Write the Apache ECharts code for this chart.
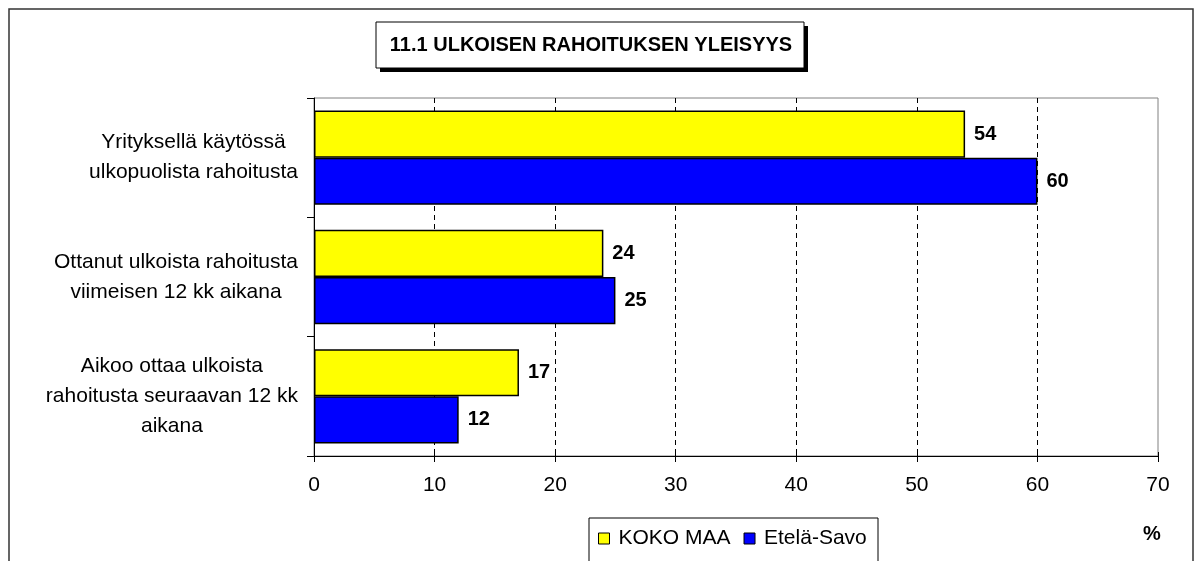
<!DOCTYPE html>
<html>
<head>
<meta charset="utf-8">
<script src="https://cdn.jsdelivr.net/npm/echarts@6/dist/echarts.min.js"></script>
<style>
  html, body { margin: 0; padding: 0; background: #fff; }
  #chart { width: 1201px; height: 561px; }
</style>
</head>
<body>
<div id="chart"></div>
<script>
// data
const categories = [
  'Yrityksellä käytössä\nulkopuolista rahoitusta',
  'Ottanut ulkoista rahoitusta\nviimeisen 12 kk aikana',
  'Aikoo ottaa ulkoista\nrahoitusta seuraavan 12 kk\naikana',
]
const seriesNames = ['KOKO MAA', 'Etelä-Savo']
const kokoMaa = [54, 24, 17]
const etelaSavo = [60, 25, 12]
const xMin = 0
const xMax = 70
const xStep = 10

const font = "'Liberation Sans', Arial, sans-serif"

const chart = echarts.init(document.getElementById('chart'))

const valueLabel = {
  show: true,
  position: 'right',
  distance: 9,
  color: '#000',
  fontFamily: font,
  fontSize: 20,
  fontWeight: 'bold',
}

const option = {
  animation: false,
  textStyle: { fontFamily: font },
  grid: {
    left: 314,
    right: 43,
    top: 98,
    bottom: 105,
    show: true,
    borderColor: '#808080',
    borderWidth: 1,
    backgroundColor: 'transparent',
  },
  legend: {
    left: 593,
    top: 523,
    data: seriesNames,
    icon: 'rect',
    itemWidth: 11,
    itemHeight: 11,
    itemGap: 13,
    itemStyle: { borderColor: '#000', borderWidth: 1 },
    textStyle: { color: '#000', fontSize: 21, fontFamily: font, padding: [0, 0, 0, 4] },
  },
  xAxis: [
    {
      type: 'value',
      min: xMin,
      max: xMax,
      interval: xStep,
      axisLine: { show: true, lineStyle: { color: '#000', width: 1 } },
      axisTick: { show: true, inside: false, length: 6, lineStyle: { color: '#000' } },
      axisLabel: { color: '#000', fontSize: 21, fontFamily: font, margin: 19 },
      splitLine: {
        show: true,
        showMinLine: false,
        showMaxLine: false,
        lineStyle: { color: '#000', type: [5, 4], width: 1 },
      },
    },
    {
      type: 'value',
      position: 'bottom',
      min: xMin,
      max: xMax,
      interval: xStep,
      axisLine: { show: false },
      axisTick: { show: true, inside: true, length: 4, lineStyle: { color: '#000' } },
      axisLabel: { show: false },
      splitLine: { show: false },
    },
  ],
  yAxis: {
    type: 'category',
    inverse: true,
    data: categories,
    axisLine: { show: true, lineStyle: { color: '#000', width: 1 } },
    axisTick: { show: true, inside: false, length: 7, lineStyle: { color: '#000' } },
    axisLabel: {
      margin: 16,
      color: '#000',
      formatter: (v) => v.split('\n').map((l) => '{c|' + l + '}').join('\n'),
      rich: {
        c: { align: 'center', fontSize: 21, lineHeight: 30, fontFamily: font, color: '#000' },
      },
    },
    splitLine: { show: false },
  },
  series: [
    {
      name: seriesNames[0],
      type: 'bar',
      data: kokoMaa,
      barGap: 0,
      barCategoryGap: '21%',
      itemStyle: { color: '#ffff00', borderColor: '#000', borderWidth: 1.5 },
      label: valueLabel,
    },
    {
      name: seriesNames[1],
      type: 'bar',
      data: etelaSavo,
      barGap: 0,
      barCategoryGap: '21%',
      itemStyle: { color: '#0000ff', borderColor: '#000', borderWidth: 1.5 },
      label: valueLabel,
    },
  ],
  graphic: [
    {
      type: 'rect',
      z: -10,
      silent: true,
      shape: { x: 9, y: 9, width: 1184, height: 600 },
      style: { fill: 'transparent', stroke: '#333', lineWidth: 1.5 },
    },
    {
      type: 'rect',
      silent: true,
      shape: { x: 380, y: 26, width: 428, height: 46 },
      style: { fill: '#000' },
    },
    {
      type: 'rect',
      silent: true,
      shape: { x: 376, y: 22, width: 428, height: 46 },
      style: { fill: '#fff', stroke: '#000', lineWidth: 1 },
    },
    {
      type: 'text',
      silent: true,
      x: 591,
      y: 45,
      style: {
        text: '11.1 ULKOISEN RAHOITUKSEN YLEISYYS',
        fill: '#000',
        font: 'bold 20px ' + font,
        align: 'center',
        verticalAlign: 'middle',
      },
    },
    {
      type: 'rect',
      silent: true,
      z: -5,
      shape: { x: 589, y: 518, width: 289, height: 60 },
      style: { fill: '#fff', stroke: '#000', lineWidth: 1 },
    },
    {
      type: 'text',
      silent: true,
      x: 1152,
      y: 534,
      style: {
        text: '%',
        fill: '#000',
        font: 'bold 20px ' + font,
        align: 'center',
        verticalAlign: 'middle',
      },
    },
  ],
}

chart.setOption(option)
</script>
</body>
</html>
